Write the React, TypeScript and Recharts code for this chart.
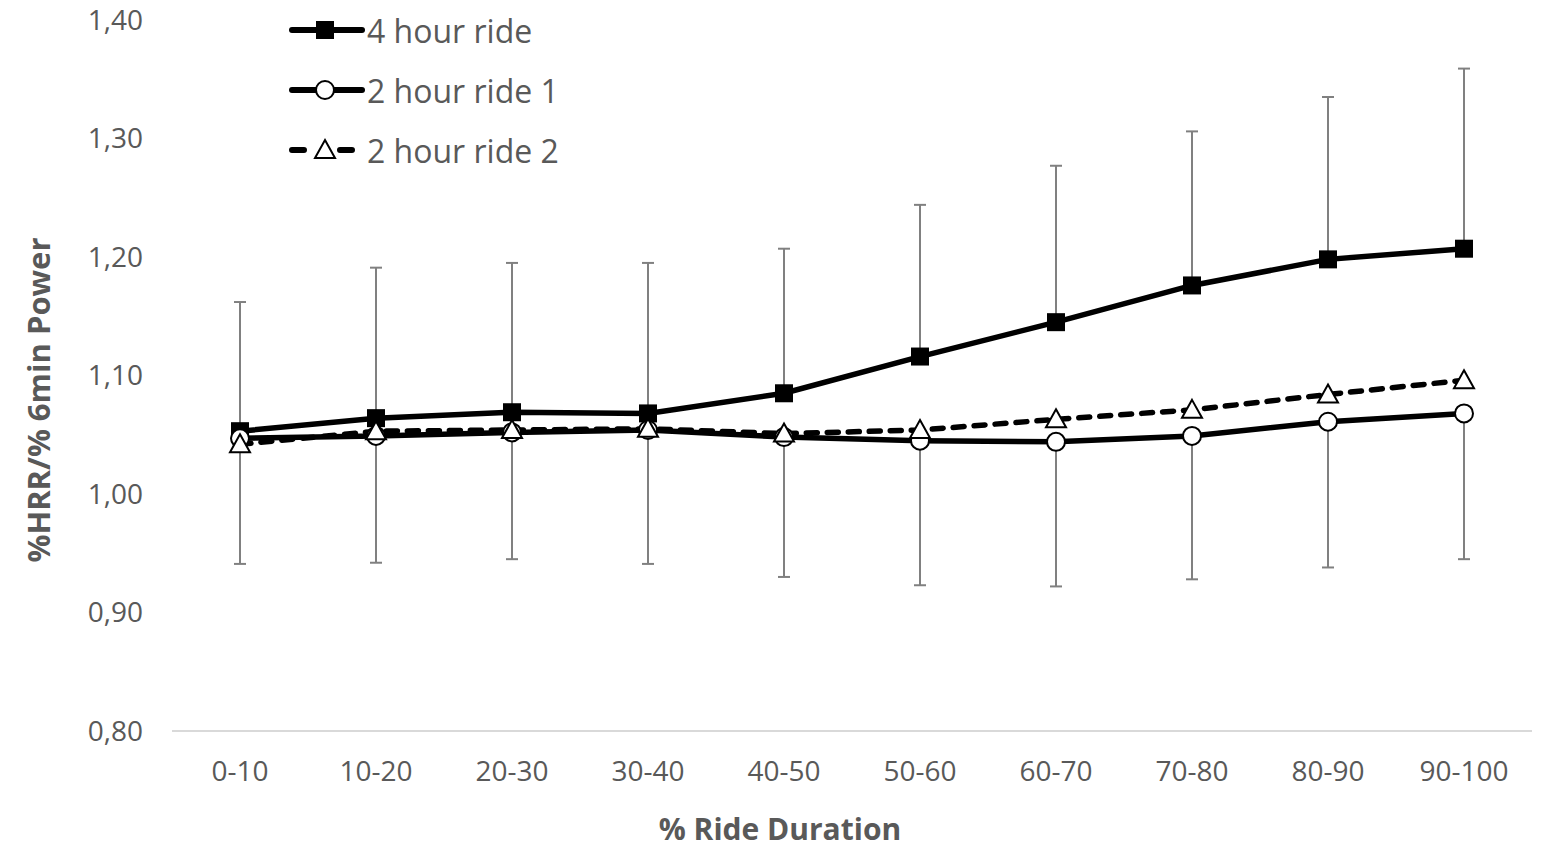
import { LineChart, Line, XAxis, YAxis, ErrorBar, Legend, Label } from "recharts";

const categories = ["0-10", "10-20", "20-30", "30-40", "40-50", "50-60", "60-70", "70-80", "80-90", "90-100"];
const fourHour = [1.053, 1.064, 1.069, 1.068, 1.085, 1.116, 1.145, 1.176, 1.198, 1.207];
const fourHourSdUp = [0.109, 0.127, 0.126, 0.127, 0.122, 0.128, 0.132, 0.13, 0.137, 0.152];
const twoHour1 = [1.047, 1.049, 1.052, 1.054, 1.048, 1.045, 1.044, 1.049, 1.061, 1.068];
const twoHour1SdDown = [0.106, 0.107, 0.107, 0.113, 0.118, 0.122, 0.122, 0.121, 0.123, 0.123];
const twoHour2 = [1.042, 1.053, 1.054, 1.055, 1.051, 1.054, 1.063, 1.071, 1.084, 1.096];
const yTicks = [0.8, 0.9, 1.0, 1.1, 1.2, 1.3, 1.4];

const data = categories.map((c, i) => ({
  range: c,
  four: fourHour[i],
  fourErr: [0, fourHourSdUp[i]],
  two1: twoHour1[i],
  two1Err: [twoHour1SdDown[i], 0],
  two2: twoHour2[i],
}));

const textGray = "#595959";
const font = "'Open Sans', sans-serif";

function Square({ cx, cy }: any) {
  return <rect x={cx - 9} y={cy - 9} width={18} height={18} fill="#000" />;
}
function Circle({ cx, cy }: any) {
  return <circle cx={cx} cy={cy} r={9} fill="#fff" stroke="#000" strokeWidth={2} />;
}
function Triangle({ cx, cy }: any) {
  return (
    <path
      d={`M${cx},${cy - 10} L${cx + 10},${cy + 8} L${cx - 10},${cy + 8} Z`}
      fill="#fff"
      stroke="#000"
      strokeWidth={2}
    />
  );
}

const legendItems = [
  { name: "4 hour ride", Marker: Square, dash: undefined as string | undefined },
  { name: "2 hour ride 1", Marker: Circle, dash: undefined },
  { name: "2 hour ride 2", Marker: Triangle, dash: "12 36" },
];

function renderLegend() {
  return (
    <svg width={600} height={180} style={{ display: "block" }}>
      {legendItems.map((it, i) => {
        const y = 30 + i * 60;
        const M = it.Marker;
        return (
          <g key={it.name}>
            <line
              x1={292}
              x2={it.dash ? 354 : 362}
              y1={y}
              y2={y}
              stroke="#000"
              strokeWidth={6}
              strokeLinecap="round"
              strokeDasharray={it.dash}
            />
            <M cx={325} cy={y} />
            <text x={367} y={y} dominantBaseline="central" fontSize={32} fill={textGray}>
              {it.name}
            </text>
          </g>
        );
      })}
    </svg>
  );
}

export default function App() {
  return (
    <div style={{ position: "absolute", left: 0, top: 0, fontFamily: font, background: "#fff" }}>
      <LineChart width={1544} height={849} data={data} margin={{ top: 20, right: 12, left: 0, bottom: 0 }}>
        <XAxis
          dataKey="range"
          padding={{ left: 68, right: 68 }}
          interval={0}
          tickLine={false}
          axisLine={{ stroke: "#d9d9d9", strokeWidth: 2 }}
          tick={{ fontSize: 28, fill: textGray }}
          tickMargin={24}
          height={118}
        >
          <Label
            content={() => (
              <text
                x={780}
                y={828}
                textAnchor="middle"
                dominantBaseline="central"
                fontSize={30}
                fontWeight={700}
                fill={textGray}
              >
                % Ride Duration
              </text>
            )}
          />
        </XAxis>
        <YAxis
          domain={[0.8, 1.4]}
          ticks={yTicks}
          tickFormatter={(v: number) => v.toFixed(2).replace(".", ",")}
          axisLine={false}
          tickLine={false}
          tick={{ fontSize: 28, fill: textGray }}
          tickMargin={23}
          width={172}
        >
          <Label
            content={() => (
              <text
                x={38}
                y={400}
                transform="rotate(-90, 38, 400)"
                textAnchor="middle"
                dominantBaseline="central"
                fontSize={31}
                fontWeight={700}
                fill={textGray}
              >
                %HRR/% 6min Power
              </text>
            )}
          />
        </YAxis>
        <Legend
          layout="horizontal"
          verticalAlign="middle"
          align="center"
          wrapperStyle={{ left: 0, top: 0, width: "auto" }}
          content={renderLegend}
        />
        <Line
          dataKey="four"
          name="4 hour ride"
          stroke="#000"
          strokeWidth={5.5}
          type="linear"
          dot={(p: any) => <Square key={`s${p.index}`} cx={p.cx} cy={p.cy} />}
          isAnimationActive={false}
        >
          <ErrorBar dataKey="fourErr" direction="y" width={6} stroke="#808080" strokeWidth={2} isAnimationActive={false} />
        </Line>
        <Line
          dataKey="two1"
          name="2 hour ride 1"
          stroke="#000"
          strokeWidth={5.5}
          type="linear"
          dot={(p: any) => <Circle key={`c${p.index}`} cx={p.cx} cy={p.cy} />}
          isAnimationActive={false}
        >
          <ErrorBar dataKey="two1Err" direction="y" width={6} stroke="#808080" strokeWidth={2} isAnimationActive={false} />
        </Line>
        <Line
          dataKey="two2"
          name="2 hour ride 2"
          stroke="#000"
          strokeWidth={5.5}
          strokeDasharray="11 10"
          strokeLinecap="round"
          type="linear"
          dot={(p: any) => <Triangle key={`t${p.index}`} cx={p.cx} cy={p.cy} />}
          isAnimationActive={false}
        />
      </LineChart>
    </div>
  );
}
